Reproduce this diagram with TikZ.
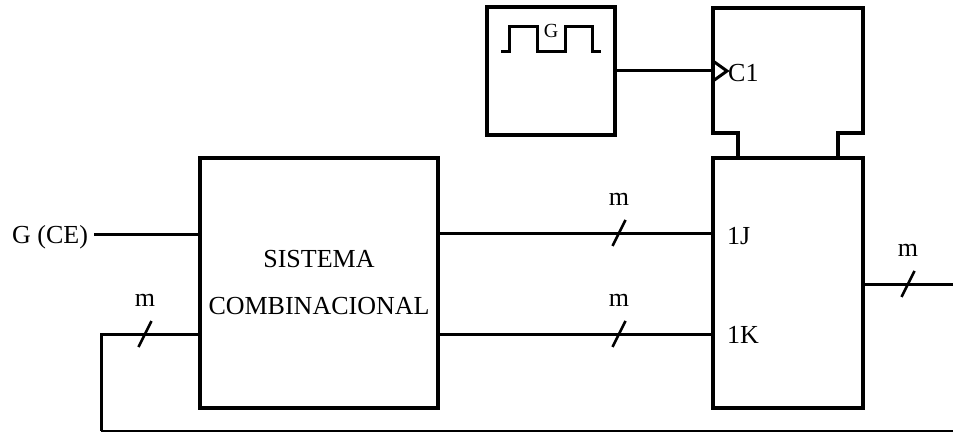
\documentclass[tikz,border=0pt]{standalone}
\usepackage{fontspec}
\setmainfont{Liberation Serif}
\usetikzlibrary{calc,positioning}

\begin{document}
\begin{tikzpicture}[x=1pt,y=-1pt,
  font=\fontsize{26}{47}\selectfont,
  block/.style={draw,line width=4.5pt,inner sep=0pt,outer sep=0pt},
  conn/.style={line width=3pt},
  bus/.style={line width=2.5pt},
  pin/.style={anchor=west,inner sep=0pt}]
\useasboundingbox (0,0) rectangle (953,433);
% blocks
\node[block,minimum width=238,minimum height=250,align=center] (comb) at (319,283) {SISTEMA\\COMBINACIONAL};
\node[block,minimum width=150,minimum height=250] (ff) at (788,283) {};
\node[block,minimum width=128,minimum height=128] (clk) at (551,71) {};
\node[inner sep=0pt,outer sep=0pt,minimum width=150,minimum height=125] (ctrl) at (788,70.5) {};
\draw[line width=4.5pt] ($(ctrl.south west)+(25,25)$) -- ++(0,-25) -- (ctrl.south west) -- (ctrl.north west)
  -- (ctrl.north east) -- (ctrl.south east) -- ++(-25,0) -- ++(0,25);
% clock
\draw[conn] ($(clk.north west)+(14,45)$) -- ++(8,0) -- ++(0,-25) -- ++(28,0) -- ++(0,25) -- ++(28,0)
  -- ++(0,-25) -- ++(27,0) -- ++(0,25) -- ++(9,0);
\node[font=\fontsize{20}{24}\selectfont,inner sep=0pt] (lblG) at (551,31) {G};
\coordinate (c1) at (ctrl.west |- clk.east);
\draw[conn] (clk.east) -- (c1);
\draw[conn] ($(c1)+(0,-10)$) -- ++(14,10) -- ++(-14,10);
\node[pin] (lblC) at ($(c1)+(15,2)$) {C1};
% pins
\coordinate (jpt) at ($(ff.west)+(0,-50)$);
\coordinate (kpt) at ($(ff.west)+(0,51)$);
\coordinate (qpt) at ($(ff.east)+(0,1)$);
\coordinate (qend) at (953,284);
\node[pin] (lblJ) at ($(jpt)+(14,3)$) {1J};
\node[pin] (lblK) at ($(kpt)+(14,1)$) {1K};
\node (lblCE) at (50,237) {G (CE)};
\coordinate (cein) at ($(lblCE.east)+(3,-3)$);
% connections
\draw[conn] (cein) -- (comb.west |- cein);
\draw[conn] (comb.east |- jpt) -- (jpt);
\draw[conn] (comb.east |- kpt) -- (kpt);
\draw[conn] (qpt) -- (qend);
\coordinate (fbR) at (953,431);
\coordinate (fbL) at (101,431);
\draw[line width=2pt] (fbR) -- (fbL);
\draw[conn] (fbL) |- ($(comb.west)+(0,51)$);
% bus marks
\coordinate (jm) at ($(jpt)+(-94,0)$);
\coordinate (km) at ($(kpt)+(-94,0)$);
\coordinate (qm) at ($(qpt)+(45,0)$);
\coordinate (fm) at (145,334);
\foreach \p in {jm,km,qm,fm}{
  \draw[bus] ($(\p)+(-6.5,13)$) -- ($(\p)+(6.5,-13)$);
  \node (m\p) at ($(\p)+(0,-34)$) {m};
}
\end{tikzpicture}
\end{document}
